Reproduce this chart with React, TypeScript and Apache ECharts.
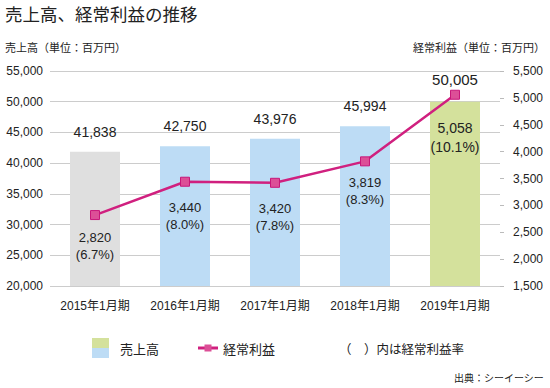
import React, { useEffect, useRef } from "react";
import * as echarts from "echarts";

const categories = ["2015年1月期", "2016年1月期", "2017年1月期", "2018年1月期", "2019年1月期"];
const sales = [41838, 42750, 43976, 45994, 50005];
const ordinaryProfit = [2820, 3440, 3420, 3819, 5058];
const profitRate = ["6.7%", "8.0%", "7.8%", "8.3%", "10.1%"];
const barColors = ["#dfdfdf", "#bddcf5", "#bddcf5", "#bddcf5", "#d4e19c"];
const leftTicks = { min: 20000, max: 55000, interval: 5000 };
const rightTicks = { min: 1500, max: 5500, interval: 500 };

const FONT = "'Liberation Sans', 'Noto Sans CJK JP', sans-serif";
const CJK = "'Noto Sans CJK JP', sans-serif";

export default function App() {
  const ref = useRef<HTMLDivElement>(null);
  useEffect(() => {
    if (!ref.current) return;
    const chart = echarts.init(ref.current, null, { renderer: "svg" });
    const last = sales.length - 1;
    const fmt = (v: number) => v.toLocaleString("en-US");
    chart.setOption({
      animation: false,
      textStyle: { fontFamily: FONT },
      grid: { left: 50, right: 50, top: 71, bottom: 102 },
      xAxis: {
        type: "category",
        data: categories,
        axisLine: { show: false },
        axisTick: { show: false },
        axisLabel: { color: "#222", fontSize: 12, margin: 14, interval: 0, hideOverlap: false, fontFamily: FONT },
      },
      yAxis: [
        {
          type: "value",
          min: leftTicks.min,
          max: leftTicks.max,
          interval: leftTicks.interval,
          axisLine: { show: false },
          axisTick: { show: false },
          splitLine: { lineStyle: { color: "#cccccc", width: 1 } },
          axisLabel: {
            color: "#222",
            fontSize: 12,
            margin: 7,
            fontFamily: FONT,
            formatter: (v: number) => fmt(v),
          },
        },
        {
          type: "value",
          position: "right",
          min: rightTicks.min,
          max: rightTicks.max,
          interval: rightTicks.interval,
          axisLine: { show: false },
          axisTick: { show: true, length: 4, lineStyle: { color: "#bbbbbb" } },
          splitLine: { show: false },
          axisLabel: {
            color: "#222",
            fontSize: 12,
            margin: 13,
            fontFamily: FONT,
            formatter: (v: number) => fmt(v),
          },
        },
      ],
      series: [
        {
          type: "bar",
          yAxisIndex: 0,
          barWidth: 50,
          z: 1,
          data: sales.map((v, i) => ({
            value: v,
            itemStyle: { color: barColors[i] },
            label: {
              show: true,
              position: "top",
              distance: i === last ? 15 : 13,
              fontSize: i === last ? 15 : 14,
              color: "#222",
              fontFamily: FONT,
              formatter: () => fmt(v),
            },
          })),
        },
        {
          type: "line",
          yAxisIndex: 1,
          z: 3,
          symbol: "rect",
          symbolSize: 9,
          lineStyle: { color: "#d0207f", width: 2.5 },
          itemStyle: { color: "#dc4f97", borderColor: "#c8167a", borderWidth: 1 },
          data: ordinaryProfit.map((v, i) => ({
            value: v,
            label: {
              show: true,
              position: "bottom",
              distance: i === last ? 19 : i === 0 ? 9 : i === 3 ? 8 : 12,
              fontSize: i === last ? 14 : 13,
              lineHeight: i === last ? 19 : 17,
              color: "#222",
              fontFamily: FONT,
              formatter: () => `${fmt(v)}\n(${profitRate[i]})`,
            },
          })),
        },
      ],
      graphic: [
        {
          type: "text",
          left: 5,
          top: 5,
          style: { text: "売上高、経常利益の推移", fontSize: 17.5, fill: "#222", fontFamily: CJK },
        },
        {
          type: "text",
          left: 5,
          top: 41,
          style: { text: "売上高（単位：百万円）", fontSize: 11, fill: "#222", fontFamily: CJK },
        },
        {
          type: "text",
          right: 5,
          top: 41,
          style: { text: "経常利益（単位：百万円）", fontSize: 11, fill: "#222", fontFamily: CJK },
        },
        { type: "rect", shape: { x: 92, y: 338, width: 17, height: 10 }, style: { fill: "#d4e19c" } },
        { type: "rect", shape: { x: 92, y: 348, width: 17, height: 10 }, style: { fill: "#bddcf5" } },
        {
          type: "text",
          x: 120,
          y: 348,
          style: { text: "売上高", fontSize: 13, fill: "#222", verticalAlign: "middle", fontFamily: CJK },
        },
        { type: "line", shape: { x1: 198, y1: 348, x2: 218, y2: 348 }, style: { stroke: "#d0207f", lineWidth: 3 } },
        { type: "rect", shape: { x: 204.5, y: 344.5, width: 7, height: 7 }, style: { fill: "#dc4f97" } },
        {
          type: "text",
          x: 223,
          y: 348,
          style: { text: "経常利益", fontSize: 13, fill: "#222", verticalAlign: "middle", fontFamily: CJK },
        },
        {
          type: "text",
          x: 339,
          y: 348,
          style: { text: "（　）内は経常利益率", fontSize: 12.5, fill: "#222", verticalAlign: "middle", fontFamily: CJK },
        },
        {
          type: "text",
          right: 6,
          top: 372,
          style: { text: "出典：シーイーシー", fontSize: 10, fill: "#222", fontFamily: CJK },
        },
      ],
    });
    return () => chart.dispose();
  }, []);
  return <div ref={ref} style={{ width: 550, height: 388, position: "absolute", left: 0, top: 0 }} />;
}
